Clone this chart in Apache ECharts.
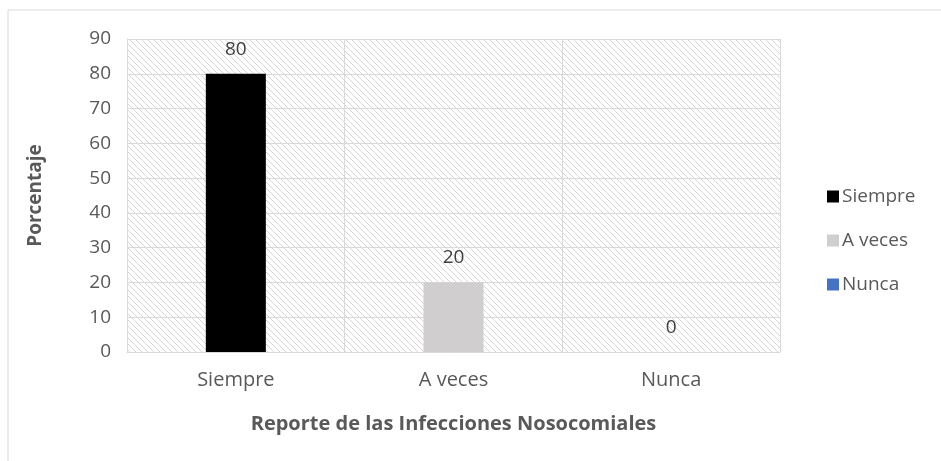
<!DOCTYPE html>
<html>
<head>
<meta charset="utf-8">
<script src="https://cdn.jsdelivr.net/npm/echarts@6/dist/echarts.min.js"></script>
<style>
  html, body { margin: 0; padding: 0; background: #fff; }
  #chart { width: 941px; height: 461px; }
</style>
</head>
<body>
<div id="chart"></div>
<script>
var categories = ['Siempre', 'A veces', 'Nunca'];
var seriesNames = ['Siempre', 'A veces', 'Nunca'];
var seriesColors = ['#000000', '#d0cece', '#4472c4'];
var values = [80, 20, 0];

var font = '"Open Sans", "Liberation Sans", sans-serif';

// diagonal hatch for the plot background
var hatch = document.createElement('canvas');
hatch.width = 6;
hatch.height = 6;
var ctx = hatch.getContext('2d');
ctx.fillStyle = '#ffffff';
ctx.fillRect(0, 0, 6, 6);
ctx.strokeStyle = '#d6d6d6';
ctx.lineWidth = 1;
ctx.beginPath();
ctx.moveTo(-1, -1); ctx.lineTo(7, 7);
ctx.moveTo(-4, 2); ctx.lineTo(4, 10);
ctx.moveTo(2, -4); ctx.lineTo(10, 4);
ctx.stroke();

var chart = echarts.init(document.getElementById('chart'));

var series = seriesNames.map(function (name, i) {
    var data = categories.map(function (c, j) { return j === i ? values[i] : '-'; });
    return {
        name: name,
        type: 'bar',
        data: data,
        barWidth: 60,
        barGap: '-100%',
        itemStyle: { color: seriesColors[i] },
        label: {
            show: true,
            position: 'top',
            distance: 15,
            color: '#404040',
            fontSize: 19,
            fontFamily: font
        }
    };
});

chart.setOption({
    animation: false,
    graphic: [{
        type: 'rect',
        shape: { x: 8, y: 10, width: 1000, height: 500 },
        style: { fill: 'none', stroke: '#d9d9d9', lineWidth: 1 }
    }],
    grid: {
        left: 127,
        top: 39,
        width: 653,
        height: 313,
        show: true,
        borderWidth: 0,
        backgroundColor: { image: hatch, repeat: 'repeat' }
    },
    legend: {
        orient: 'vertical',
        left: 822,
        top: 182,
        itemWidth: 12,
        itemHeight: 12,
        itemGap: 25,
        icon: 'rect',
        textStyle: { fontSize: 19, color: '#595959', fontFamily: font, padding: [0, 0, 0, -2] },
        data: seriesNames
    },
    xAxis: {
        type: 'category',
        data: categories,
        name: 'Reporte de las Infecciones Nosocomiales',
        nameLocation: 'middle',
        nameGap: 62,
        nameTextStyle: { fontSize: 20, fontWeight: 'bold', color: '#595959', fontFamily: font },
        axisLine: { lineStyle: { color: '#d9d9d9', width: 1 } },
        axisTick: { show: false },
        axisLabel: { fontSize: 20, color: '#595959', fontFamily: font, margin: 18 },
        splitLine: { show: true, lineStyle: { color: '#d9d9d9', width: 1 } }
    },
    yAxis: {
        type: 'value',
        min: 0,
        max: 90,
        interval: 10,
        name: 'Porcentaje',
        nameLocation: 'middle',
        nameGap: 82,
        nameTextStyle: { fontSize: 19, fontWeight: 'bold', color: '#595959', fontFamily: font },
        axisLine: { show: true, lineStyle: { color: '#d9d9d9' } },
        axisTick: { show: false },
        axisLabel: { fontSize: 19, color: '#595959', fontFamily: font, margin: 16 },
        splitLine: { show: true, lineStyle: { color: '#d9d9d9', width: 1 } }
    },
    series: series
});
</script>
</body>
</html>
